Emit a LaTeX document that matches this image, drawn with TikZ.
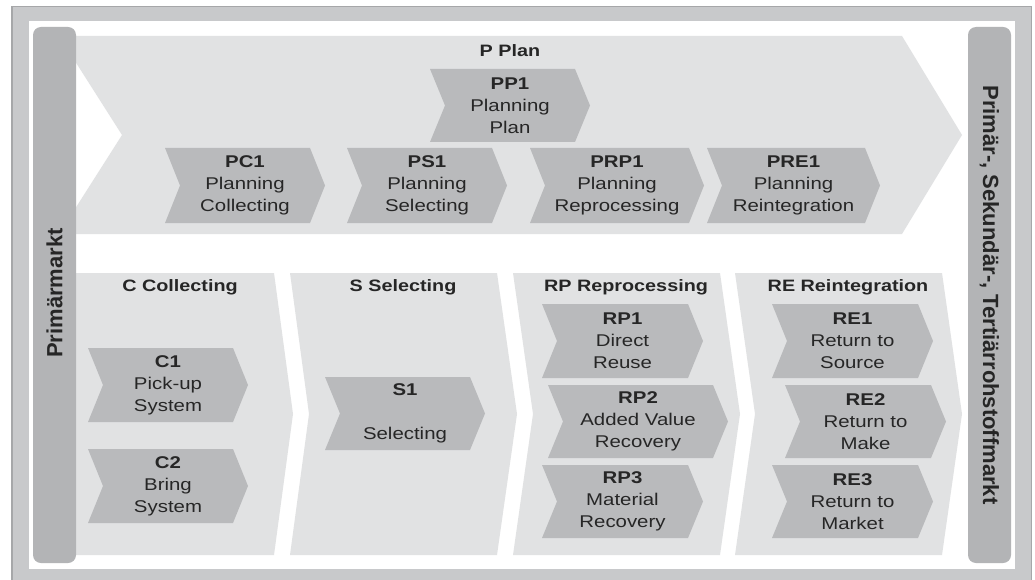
\documentclass[tikz,border=0pt]{standalone}
\usepackage{fontspec}
\setmainfont{Liberation Sans}
\newfontfamily\widefont[FakeStretch=1.2]{Liberation Sans}

\definecolor{framegray}{HTML}{C8C9CB}
\definecolor{frameline}{HTML}{A6A7A9}
\definecolor{panelgray}{HTML}{E1E2E3}
\definecolor{chevgray}{HTML}{B9BABC}
\definecolor{bargray}{HTML}{B3B4B6}
\definecolor{textgray}{HTML}{262626}

\tikzset{
  panel/.style={fill=panelgray},
  chevfill/.style={fill=chevgray},
  sidebar/.style={fill=bargray, rounded corners=8pt},
  chevtext/.style={align=center, inner sep=0pt, text=textgray,
    font=\widefont\fontsize{17}{22}\selectfont},
  paneltitle/.style={inner sep=0pt, text=textgray,
    font=\widefont\bfseries\fontsize{16.5}{22}\selectfont},
  bartext/.style={inner sep=0pt, text=textgray,
    font=\bfseries\fontsize{22}{26}\selectfont},
}

% chevron: #1 name, #2 left x, #3 top y, #4 tip x, #5 bottom y, #6 label
\newcommand{\chevbox}[6]{%
  \fill[chevfill] (#2,#3) -- ({#4-15},#3) -- (#4,{(#3+#5)/2}) -- ({#4-15},#5)
    -- (#2,#5) -- ({#2+15},{(#3+#5)/2}) -- cycle;
  \node[chevtext] (#1) at ({(#2+#4)/2},{(#3+#5)/2}) {#6};
}

\begin{document}
\begin{tikzpicture}[x=1pt,y=-1pt]
\useasboundingbox (0,0) rectangle (1035,580);

% outer frame and white sheet
\fill[framegray] (11,6) rectangle (1032,580);
\draw[frameline, line width=1.5pt] (11.75,580) -- (11.75,6.75) -- (1031.25,6.75) -- (1031.25,580);
\fill[white] (29,21) rectangle (1015,569);

% planning arrow
\fill[panel] (59,36) -- (902,36) -- (962,135) -- (902,234) -- (59,234) -- (122,135) -- cycle;

% process panels
\fill[panel] (60,273) -- (274,273) -- (293,414) -- (274,555) -- (60,555) -- cycle;
\fill[panel] (290,273) -- (497,273) -- (517,414) -- (497,555) -- (290,555) -- (309,414) -- cycle;
\fill[panel] (513,273) -- (720,273) -- (740,414) -- (720,555) -- (513,555) -- (533,414) -- cycle;
\fill[panel] (735,273) -- (942,273) -- (962,414) -- (942,555) -- (735,555) -- (755,414) -- cycle;

% market bars
\fill[sidebar] (33,27) rectangle (76,563);
\fill[sidebar] (968,27) rectangle (1011,563);
\node[bartext, rotate=90] (prim) at (54.5,293) {Primärmarkt};
\node[bartext, rotate=-90] (sek) at (989.5,295) {Primär-, Sekundär-, Tertiärrohstoffmarkt};

% titles
\node[paneltitle] (tP) at (510,51) {P Plan};
\node[paneltitle] (tC) at (180,287) {C Collecting};
\node[paneltitle] (tS) at (403,287) {S Selecting};
\node[paneltitle] (tRP) at (626,287) {RP Reprocessing};
\node[paneltitle] (tRE) at (848,287) {RE Reintegration};

% planning steps
\chevbox{PP1}{430}{69}{590}{142}{\textbf{PP1}\\Planning\\Plan}
\chevbox{PC1}{165}{148}{325}{223}{\textbf{PC1}\\Planning\\Collecting}
\chevbox{PS1}{347}{148}{507}{223}{\textbf{PS1}\\Planning\\Selecting}
\chevbox{PRP1}{530}{148}{704}{223}{\textbf{PRP1}\\Planning\\Reprocessing}
\chevbox{PRE1}{707}{148}{880}{223}{\textbf{PRE1}\\Planning\\Reintegration}

% collecting
\chevbox{C1}{88}{348}{248}{422}{\textbf{C1}\\Pick-up\\System}
\chevbox{C2}{88}{449}{248}{523}{\textbf{C2}\\Bring\\System}

% selecting
\chevbox{S1}{325}{377}{485}{450}{\textbf{S1}\\[22pt]Selecting}

% reprocessing
\chevbox{RP1}{542}{304}{703}{378}{\textbf{RP1}\\Direct\\Reuse}
\chevbox{RP2}{548}{385}{728}{458}{\textbf{RP2}\\Added Value\\Recovery}
\chevbox{RP3}{542}{465}{703}{538}{\textbf{RP3}\\Material\\Recovery}

% reintegration
\chevbox{RE1}{772}{304}{933}{378}{\textbf{RE1}\\Return to\\Source}
\chevbox{RE2}{785}{385}{946}{458}{\textbf{RE2}\\Return to\\Make}
\chevbox{RE3}{772}{465}{933}{538}{\textbf{RE3}\\Return to\\Market}
\end{tikzpicture}
\end{document}
